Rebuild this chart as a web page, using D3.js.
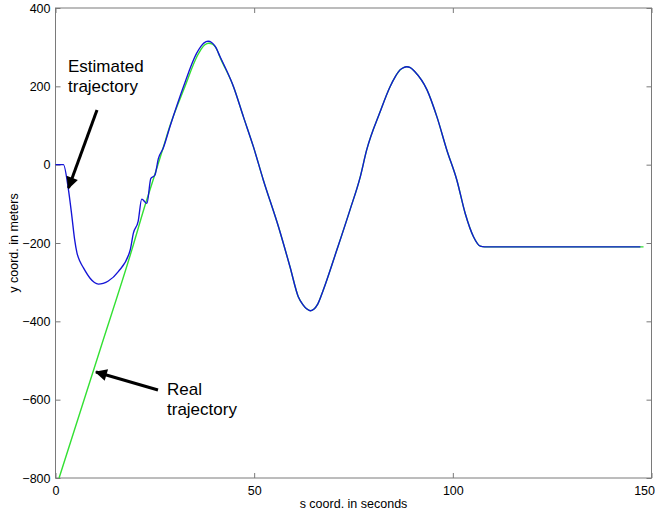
<!DOCTYPE html>
<html>
<head>
<meta charset="utf-8">
<script src="https://cdn.jsdelivr.net/npm/d3@7"></script>
<style>
  html, body { margin: 0; padding: 0; background: #fff; }
  svg { display: block; font-family: "Liberation Sans", Arial, sans-serif; }
</style>
</head>
<body>
<svg id="chart" width="655" height="518"></svg>
<script>
// ---- data ----
const estT = [0, 2, 3.2, 4.1, 4.8, 5.4, 6.2, 7.0, 8.7, 9.8, 10.8, 12.0, 13.3, 15.8, 18.8, 19.6, 20.8, 21.7, 23.0, 24.0, 25.0, 25.9, 27.1, 28.8, 32.2, 35.5, 36.6, 37.4, 38.4, 39.3, 40.2, 41.4, 44.8, 47.3, 49.8, 52.3, 56.1, 59.0, 61.1, 62.3, 63.2, 64.1, 65.0, 66.0, 67.4, 70.8, 74.1, 76.7, 78.3, 81.7, 84.2, 85.6, 86.7, 87.6, 88.4, 89.3, 90.4, 93.5, 96.0, 98.5, 101.0, 103.1, 105.2, 106.9, 108.0, 147.2];
const estY = [0, 0, -60, -130, -190, -225, -248, -263, -290, -301, -305, -303, -297, -273, -218, -175, -145, -88, -99, -35, -27, 16, 42, 97, 199, 284, 302, 311, 315, 312, 302, 276, 199, 122, 46, -39, -158, -260, -337, -358, -368, -373, -369, -356, -320, -218, -116, -31, 37, 135, 199, 226, 242, 248, 250, 248, 238, 191, 122, 37, -39, -124, -184, -208, -210, -210];

const realT = [0.9, 11.2, 19.2, 22.5, 25.0, 27.0, 29.0, 32.4, 35.7, 36.8, 37.6, 38.6, 39.5, 40.4, 41.5, 44.8, 47.3, 49.8, 52.3, 56.1, 59.0, 61.1, 62.3, 63.2, 64.1, 65.0, 66.0, 67.4, 70.8, 74.1, 76.7, 78.3, 81.7, 84.2, 85.6, 86.7, 87.6, 88.4, 89.3, 90.4, 93.5, 96.0, 98.5, 101.0, 103.1, 105.2, 106.9, 108.0, 148.0];
const realY = [-800, -473, -218, -105, -25, 40, 105, 195, 278, 297, 306, 310, 308, 298, 272, 199, 122, 46, -39, -158, -260, -337, -358, -368, -373, -369, -356, -320, -218, -116, -31, 37, 135, 199, 226, 242, 248, 250, 248, 238, 191, 122, 37, -39, -124, -184, -208, -210, -210];

const xTicks = [0, 50, 100, 150];
const yTicks = [-800, -600, -400, -200, 0, 200, 400];

// ---- layout ----
const svg = d3.select("#chart");
const L = 55.5, R = 651.5, T = 8, B = 478;
const x = d3.scaleLinear().domain([0, 150]).range([L, R]);
const y = d3.scaleLinear().domain([-800, 400]).range([B, T]);
const axisColor = "#7a7a7a";
const fs = "12.5px";

const xb = svg.append("g").attr("transform", `translate(0,${B})`)
  .call(d3.axisBottom(x).tickValues(xTicks).tickSize(-5).tickPadding(6).tickFormat(d3.format("d")));
const xt = svg.append("g").attr("transform", `translate(0,${T})`)
  .call(d3.axisTop(x).tickValues(xTicks).tickSize(-5).tickFormat(""));
const yl = svg.append("g").attr("transform", `translate(${L},0)`)
  .call(d3.axisLeft(y).tickValues(yTicks).tickSize(-5).tickPadding(5).tickFormat(d3.format("d")));
const yr = svg.append("g").attr("transform", `translate(${R},0)`)
  .call(d3.axisRight(y).tickValues(yTicks).tickSize(-5).tickFormat(""));

[xb, xt, yl, yr].forEach(g => {
  g.select(".domain").remove();
  g.selectAll(".tick line").attr("stroke", axisColor);
  g.selectAll(".tick text").attr("fill", "#000").style("font-size", fs)
   .style("font-family", '"Liberation Sans", Arial, sans-serif');
});
xb.selectAll(".tick text").attr("dy", "0.9em");
// keep the last x label inside the window
xb.selectAll(".tick text").filter(d => d === 150).attr("text-anchor", "end").attr("x", 3);

// box
svg.append("rect").attr("x", L).attr("y", T).attr("width", R - L).attr("height", B - T)
  .attr("fill", "none").attr("stroke", axisColor).attr("stroke-width", 1);

// lines
const line = d3.line().x(d => x(d[0])).y(d => y(d[1])).curve(d3.curveMonotoneX);
svg.append("path").datum(d3.zip(realT, realY)).attr("d", line)
  .attr("fill", "none").attr("stroke", "#33e033").attr("stroke-width", 1.4);
svg.append("path").datum(d3.zip(estT, estY)).attr("d", line)
  .attr("fill", "none").attr("stroke", "#1414d6").attr("stroke-width", 1.35);

// axis titles
svg.append("text").attr("x", x(75)).attr("y", 508).attr("text-anchor", "middle")
  .style("font-size", fs).text("s coord. in seconds");
svg.append("text").attr("transform", `translate(18,${(T + B) / 2}) rotate(-90)`)
  .attr("text-anchor", "middle").style("font-size", fs).text("y coord. in meters");

// annotations
const ann = svg.append("g").style("font-size", "17px").attr("fill", "#000");
ann.append("text").attr("x", 68).attr("y", 72).text("Estimated");
ann.append("text").attr("x", 68).attr("y", 92).text("trajectory");
ann.append("text").attr("x", 167).attr("y", 395).text("Real");
ann.append("text").attr("x", 167).attr("y", 415).text("trajectory");

svg.append("defs").append("marker").attr("id", "ah")
  .attr("viewBox", "0 0 10 10").attr("refX", 9).attr("refY", 5)
  .attr("markerWidth", 4.5).attr("markerHeight", 4).attr("orient", "auto")
  .attr("markerUnits", "strokeWidth")
  .append("path").attr("d", "M0,0 L10,5 L0,10 Z").attr("fill", "#000");

svg.append("line").attr("x1", 97).attr("y1", 110).attr("x2", 68.5).attr("y2", 188)
  .attr("stroke", "#000").attr("stroke-width", 3).attr("marker-end", "url(#ah)");
svg.append("line").attr("x1", 158).attr("y1", 390).attr("x2", 96).attr("y2", 372)
  .attr("stroke", "#000").attr("stroke-width", 3).attr("marker-end", "url(#ah)");
</script>
</body>
</html>
